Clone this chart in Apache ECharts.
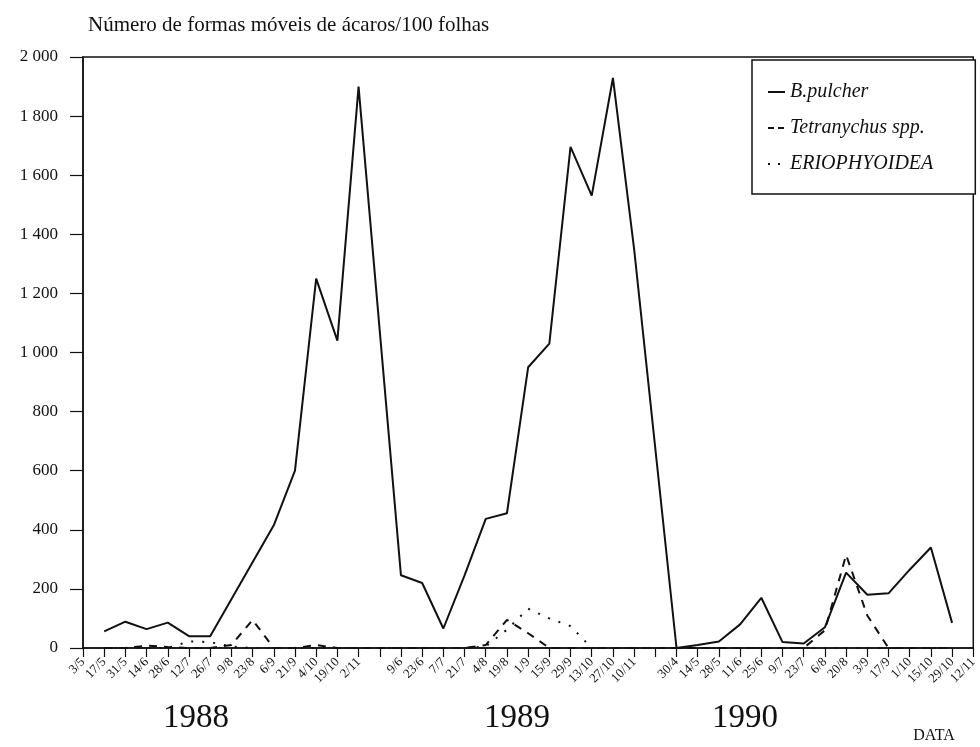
<!DOCTYPE html>
<html>
<head>
<meta charset="utf-8">
<script src="https://cdn.jsdelivr.net/npm/echarts@6/dist/echarts.min.js"></script>
<style>
html, body { margin: 0; padding: 0; background: #fff; }
#chartbox { width: 980px; height: 747px; }
</style>
</head>
<body>
<div id="chartbox"></div>
<script>
// sampling dates per season; an unlabelled tick sits between seasons
var dates1988 = ["3/5", "17/5", "31/5", "14/6", "28/6", "12/7", "26/7", "9/8", "23/8", "6/9", "21/9", "4/10", "19/10", "2/11"];
var dates1989 = ["9/6", "23/6", "7/7", "21/7", "4/8", "19/8", "1/9", "15/9", "29/9", "13/10", "27/10", "10/11"];
var dates1990 = ["30/4", "14/5", "28/5", "11/6", "25/6", "9/7", "23/7", "6/8", "20/8", "3/9", "17/9", "1/10", "15/10", "29/10", "12/11"];
var years = ["1988", "1989", "1990"];

// mobile forms per 100 leaves (null = no point)
var pulcher = [null, 56, 89, 64, 86, 40, 40, 165, 290, 415, 600, 1250, 1040, 1900, null,
    246, 220, 66, 246, 437, 456, 950, 1030, 1696, 1531, 1929, 1350, null,
    0, 10, 22, 80, 170, 20, 15, 70, 255, 180, 185, 265, 340, 85, null];
var tetranychus = [null, 0, 0, 8, 3, 0, 0, 10, 95, 0, 0, 10, 0, 0, null,
    0, 0, 0, 0, 10, 95, 50, 0, 0, 0, 0, 0, null,
    0, 0, 0, 0, 0, 0, 0, 60, 315, 110, 0, 0, 0, 0, null];
var eriophyoidea = [null, 0, 0, 0, 0, 22, 20, 5, 0, 0, 0, 0, 0, 0, null,
    0, 0, 0, 0, 5, 62, 133, 100, 74, 0, 0, 0, null,
    0, 0, 0, 0, 0, 0, 0, 0, 0, 0, 0, 0, 0, 0, null];

var tickLabels = dates1988.concat([""], dates1989, [""], dates1990);
var categories = tickLabels.map(function (l, i) { return l || ("gap" + i); });

var serif = "'Liberation Serif', 'DejaVu Serif', serif";
var myChart = echarts.init(document.getElementById("chartbox"));

var option = {
    animation: false,
    backgroundColor: "#fff",
    color: ["#111", "#111", "#111"],
    grid: {
        left: 83,
        right: 4,
        top: 57,
        bottom: 99,
        show: true,
        borderColor: "#111",
        borderWidth: 1.5,
    },
    legend: {
        orient: "vertical",
        left: 752,
        top: 60,
        padding: [22, 42, 20, 15],
        itemGap: 16,
        itemWidth: 17,
        itemHeight: 10,
        borderColor: "#111",
        borderWidth: 1.5,
        backgroundColor: "#fff",
        itemStyle: { opacity: 0 },
        textStyle: {
            fontFamily: serif,
            fontStyle: "italic",
            fontSize: 20,
            color: "#111",
        },
        data: [
            { name: "B.pulcher" },
            { name: "Tetranychus spp.", lineStyle: { type: [6, 4] } },
            { name: "ERIOPHYOIDEA", lineStyle: { type: [2, 8] } },
        ],
    },
    graphic: [
        { type: "text", left: 88, top: 15, style: { text: "Número de formas móveis de ácaros/100 folhas", font: "21px " + serif, fill: "#111" } },
        { type: "text", x: 196, y: 718, style: { text: years[0], font: "33px " + serif, fill: "#111", textAlign: "center", textVerticalAlign: "middle" } },
        { type: "text", x: 517, y: 718, style: { text: years[1], font: "33px " + serif, fill: "#111", textAlign: "center", textVerticalAlign: "middle" } },
        { type: "text", x: 745, y: 718, style: { text: years[2], font: "33px " + serif, fill: "#111", textAlign: "center", textVerticalAlign: "middle" } },
        { type: "text", x: 934, y: 736, style: { text: "DATA", font: "16px " + serif, fill: "#111", textAlign: "center", textVerticalAlign: "middle" } },
    ],
    xAxis: {
        type: "category",
        boundaryGap: false,
        data: categories,
        axisLine: { lineStyle: { color: "#111", width: 1.5 } },
        axisTick: { interval: 0, length: 9, lineStyle: { color: "#111", width: 1.2 } },
        axisLabel: {
            interval: 0,
            rotate: 45,
            margin: 12,
            fontFamily: serif,
            fontSize: 13,
            color: "#111",
            formatter: function (v) { return v.indexOf("gap") === 0 ? "" : v; },
        },
        splitLine: { show: false },
    },
    yAxis: {
        type: "value",
        min: 0,
        max: 2000,
        interval: 200,
        axisLine: { show: true, lineStyle: { color: "#111", width: 1.5 } },
        axisTick: { show: true, length: 13, lineStyle: { color: "#111", width: 1.2 } },
        axisLabel: {
            margin: 25,
            fontFamily: serif,
            fontSize: 17,
            color: "#111",
            formatter: function (v) {
                return v >= 1000 ? Math.floor(v / 1000) + " " + String(v % 1000).padStart(3, "0") : String(v);
            },
        },
        splitLine: { show: false },
    },
    series: [
        {
            name: "ERIOPHYOIDEA",
            type: "line",
            symbol: "none",
            connectNulls: true,
            lineStyle: { color: "#111", width: 2, type: [2, 9] },
            data: eriophyoidea,
        },
        {
            name: "Tetranychus spp.",
            type: "line",
            symbol: "none",
            connectNulls: true,
            lineStyle: { color: "#111", width: 2, type: [8, 7] },
            data: tetranychus,
        },
        {
            name: "B.pulcher",
            type: "line",
            symbol: "none",
            connectNulls: true,
            z: 5,
            lineStyle: { color: "#111", width: 2 },
            data: pulcher,
        },
    ],
};
myChart.setOption(option);
</script>
</body>
</html>
